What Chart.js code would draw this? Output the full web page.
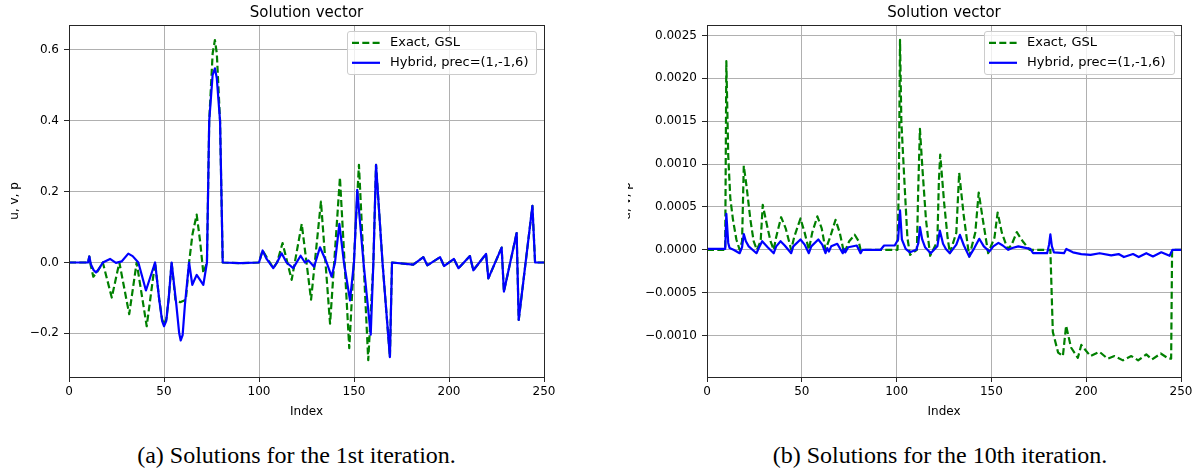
<!DOCTYPE html>
<html><head><meta charset="utf-8">
<script src="https://cdn.jsdelivr.net/npm/chart.js@4.4.1/dist/chart.umd.min.js"></script>
<style>
html,body{margin:0;padding:0;background:#fff;}
#wrap{position:relative;width:1203px;height:474px;overflow:hidden;background:#fff;}
canvas{position:absolute;top:0;}
.ttl{position:absolute;top:3px;font-family:"DejaVu Sans";font-size:15px;line-height:18px;color:#000;white-space:nowrap;transform:translateX(-50%);}
.cap{position:absolute;top:442px;font-family:"Liberation Serif";font-size:24px;line-height:27px;color:#000;white-space:nowrap;transform:translateX(-50%);}
.leg{position:absolute;border:1px solid #cccccc;border-radius:3px;background:rgba(255,255,255,0.8);box-sizing:border-box;}
.leg svg{position:absolute;left:0;top:0;}
.leg span{position:absolute;font-family:"DejaVu Sans";font-size:13px;line-height:16px;color:#000;white-space:nowrap;}
</style></head>
<body><div id="wrap">
<canvas id="cA" width="600" height="430" style="left:0;width:600px;height:430px"></canvas>
<canvas id="cB" width="575" height="430" style="left:628px;width:575px;height:430px"></canvas>
</div>
<script>
const titleText = 'Solution vector';
const xLabel = 'Index';
const yLabel = 'u, v, p';
const captions = ['(a) Solutions for the 1st iteration.', '(b) Solutions for the 10th iteration.'];
const seriesNames = ['Exact, GSL', 'Hybrid, prec=(1,-1,6)'];
const seriesColors = ['#008000', '#0000ff'];

const xTicks = [0, 50, 100, 150, 200, 250];
const xTickLabels = ['0', '50', '100', '150', '200', '250'];
const yTicksA = [-0.2, 0, 0.2, 0.4, 0.6];
const yTickLabelsA = ['\u22120.2', '0.0', '0.2', '0.4', '0.6'];
const yTicksB = [-0.001, -0.0005, 0, 0.0005, 0.001, 0.0015, 0.002, 0.0025];
const yTickLabelsB = ['\u22120.0010', '\u22120.0005', '0.0000', '0.0005', '0.0010', '0.0015', '0.0020', '0.0025'];

// (a) 1st iteration
const leftExactX = [0, 10, 10.7, 11.5, 12.8, 14.5, 17.8, 22.5, 26.5, 31.7, 35.6, 40.9, 45.3, 47.5, 49, 50, 51.2, 52.5, 54, 56, 58.5, 61.5, 63.2, 65, 67.2, 69, 70.7, 72.6, 73.8, 75.6, 76.8, 77.8, 79.5, 80.9, 90, 100, 101.9, 104, 107.5, 109.5, 112.4, 117.2, 122.5, 127.4, 132.6, 137.4, 142.6, 147.5, 152.6, 157.5, 160.2, 161.6, 165, 168.9, 170, 181.2, 186.5, 188.6, 195.3, 197.4, 202.6, 205, 211, 212.8, 219.5, 220.7, 227.7, 228.9, 235.6, 236.7, 243.9, 245.3, 250];
const leftExactY = [0, 0, 0.017, -0.01, -0.04, -0.03, 0, -0.099, 0, -0.146, 0, -0.18, 0, -0.105, -0.16, -0.175, -0.16, -0.1, 0, -0.105, -0.112, -0.105, 0, 0.08, 0.135, 0.06, -0.03, 0, 0.4, 0.59, 0.628, 0.59, 0.4, 0, -0.002, 0, 0.034, 0.015, -0.016, 0, 0.055, -0.049, 0.109, -0.105, 0.172, -0.173, 0.24, -0.242, 0.276, -0.276, 0, 0.276, 0, -0.267, 0, -0.006, 0.015, -0.008, 0.015, -0.01, 0.01, -0.016, 0.018, -0.022, 0.024, -0.045, 0.042, -0.082, 0.083, -0.162, 0.16, 0, 0];
const leftHybridX = [0, 10, 10.7, 11.5, 13, 14.2, 15.5, 17.8, 21.6, 24.7, 27.7, 31.2, 33.5, 36.5, 40.5, 45.3, 47.5, 49, 50, 51.2, 52.5, 54, 56.5, 58, 58.8, 59.8, 61, 63.2, 64.9, 67.2, 70.7, 72.6, 73.8, 75.6, 76.8, 77.8, 79.5, 80.9, 90, 100, 101.9, 104, 107.5, 109.5, 111.9, 114.5, 118, 121.9, 124.2, 126, 129, 132.1, 135.6, 138.2, 140, 142.3, 144.7, 147.9, 150, 151.7, 155, 158.8, 160.2, 161.6, 165, 168.9, 170, 181.2, 186.5, 188.6, 195.3, 197.4, 202.6, 205, 211, 212.8, 219.5, 220.7, 227.7, 228.9, 235.6, 236.7, 243.9, 245.3, 250];
const leftHybridY = [0, 0, 0.017, -0.005, -0.022, -0.028, -0.02, 0, 0.01, -0.001, 0.003, 0.025, 0.018, 0, -0.079, 0, -0.105, -0.165, -0.18, -0.165, -0.1, 0, -0.12, -0.2, -0.22, -0.205, -0.12, 0, -0.063, -0.035, -0.063, 0, 0.4, 0.53, 0.548, 0.52, 0.4, 0, -0.002, 0, 0.034, 0.01, -0.016, 0, 0.026, 0, -0.016, 0.019, 0, 0.006, -0.012, 0.043, 0, -0.04, 0, 0.109, 0, -0.107, 0, 0.205, 0, -0.204, 0, 0.276, 0, -0.267, 0, -0.006, 0.015, -0.008, 0.015, -0.01, 0.01, -0.016, 0.018, -0.022, 0.024, -0.045, 0.042, -0.082, 0.083, -0.162, 0.16, 0, 0];

// (b) 10th iteration
const rightExactX = [0, 9.6, 10.2, 11.2, 12.3, 13.7, 15.5, 17.2, 18.5, 19.4, 20.8, 22.9, 24.6, 26.3, 28.3, 29.4, 31.5, 33.5, 35.2, 36.5, 39.1, 41.5, 44.4, 46, 49.3, 51.5, 53.7, 55.5, 58.2, 60.5, 62.5, 65, 67.8, 70, 72.3, 75, 77.9, 80, 81, 100.5, 101.2, 101.8, 102.5, 104.3, 105.7, 107.1, 110.7, 111.4, 112.3, 113.7, 115.5, 117.7, 121.5, 122.3, 123, 125.1, 126.9, 128.1, 131.5, 133, 135.4, 138.3, 141.5, 143.3, 145.5, 148.3, 151.6, 153.3, 155.5, 158.5, 160.5, 163.4, 166.5, 170.1, 181.1, 182.4, 185.2, 187.7, 189.4, 192, 195.6, 197.4, 202.2, 207, 211.3, 214.9, 219.4, 223.8, 227.4, 231.7, 234.7, 239.3, 243.5, 244.8, 245.3, 250];
const rightExactY = [0, 0, 0.0022, 0.0011, 0.0006, 0.00035, 0.00012, 0, 0.0001, 0.00098, 0.00075, 0.00035, 0.0001, 0, 0.0001, 0.000525, 0.0003, 0.0001, 0, 0.00015, 0.00038, 0.00025, 0, 0.00015, 0.000365, 0.0002, 0, 0.0002, 0.00039, 0.00025, 0, 0.00015, 0.00035, 0.0002, -0.00004, 0.0001, 0.000175, 0.0001, 0, 0, 0.0008, 0.00245, 0.0015, 0.00072, 0.00014, -0.00006, 0, 0.0007, 0.00141, 0.00092, 0.00035, -0.00007, 0.0001, 0.0008, 0.00111, 0.00054, 0.00014, -0.00004, 0.0002, 0.0009, 0.0004, -0.00008, 0.0002, 0.000668, 0.00035, -0.00004, 0.00014, 0.000435, 0.0002, 0.00001, 0.00005, 0.000206, 0.0001, 0, 0, -0.00096, -0.0012, -0.00124, -0.000886, -0.00114, -0.00126, -0.00111, -0.00124, -0.00119, -0.00127, -0.00124, -0.00129, -0.00124, -0.00129, -0.00122, -0.00128, -0.00121, -0.00127, -0.00127, 0, 0];
const rightHybridX = [0, 9.6, 10.2, 11.2, 11.9, 14, 17.2, 18.5, 19.4, 20.5, 22, 26.1, 27.5, 29.1, 32, 35.2, 36.5, 38.8, 41, 44.4, 45.5, 49.3, 51.5, 53.7, 55, 58.7, 60.8, 62.5, 63.4, 64.3, 65.5, 68.7, 71.6, 72.2, 72.9, 74.5, 79, 81, 82, 91.6, 93.4, 99, 100.8, 101.8, 102.8, 104.8, 107, 110.4, 111.5, 112.3, 113.5, 115, 118, 121.5, 122.8, 124.5, 126, 128.1, 131.5, 133.4, 135.5, 138.3, 141, 143.6, 146, 148.9, 151, 153.7, 156, 158.9, 161, 164.2, 170.5, 172, 179.4, 180.4, 181.1, 181.9, 183, 188.3, 189.5, 193, 197.4, 202.3, 207.1, 213.2, 217.1, 219.9, 224.7, 227.7, 231.7, 235.2, 239.6, 244, 245.5, 250];
const rightHybridY = [0.00001, 0.00001, 0.00042, 0.00008, 0.00002, 0, -0.00004, 0.00003, 0.000183, 0.0001, 0.00004, -0.00004, 0.00003, 0.0001, 0.00003, -0.00004, 0.00004, 0.0001, 0.00005, -0.00004, 0.00004, 0.00012, 0.00006, -0.00004, 0.00004, 0.00012, 0.00006, -0.00004, 0.00002, -0.00002, 0.00004, 0.00007, -0.00004, 0.00001, -0.00003, 0.00003, 0.00005, -0.00004, 0, 0, 0.00005, 0.00005, 0.00012, 0.00046, 0.00012, 0.00001, -0.00003, 0, 0.00008, 0.000265, 0.00012, 0.00003, -0.00004, 0.00004, 0.000225, 0.00007, 0.00001, -0.00004, 0.00006, 0.000175, 0.00005, -0.00008, 0.00002, 0.000128, 0.00004, -0.00002, 0.00004, 0.00008, 0.00005, 0, 0.00002, 0.00004, 0.00001, -0.00004, -0.00004, 0.00006, 0.00018, 0.00004, -0.00003, -0.00004, 0.00001, -0.00003, -0.00005, -0.00006, -0.00004, -0.000066, -0.00005, -0.000085, -0.00005, -0.000085, -0.00004, -0.000078, -0.00003, -0.00007, 0, 0];

const yRangeA = [-0.3233, 0.6705];
const yRangeB = [-0.001484, 0.002622];

const pts = (xs, ys) => xs.map((x, i) => ({x: x, y: ys[i]}));

const framePlugin = {
  id: 'frame',
  afterDatasetsDraw(chart) {
    const a = chart.chartArea, ctx = chart.ctx;
    const L = Math.round(a.left), R = Math.round(a.right), T = Math.round(a.top), B = Math.round(a.bottom);
    ctx.save();
    ctx.strokeStyle = '#262626';
    ctx.lineWidth = 1;
    ctx.strokeRect(L + 0.5, T + 0.5, R - L, B - T);
    ctx.restore();
  }
};

function makeChart(id, cfg) {
  const ds = [
    {label: seriesNames[0], data: pts(cfg.ex, cfg.ey), borderColor: seriesColors[0], borderWidth: 2.2,
     borderDash: [7, 3.3], pointRadius: 0, tension: 0, fill: false, order: 2, borderJoinStyle: 'round'},
    {label: seriesNames[1], data: pts(cfg.hx, cfg.hy), borderColor: seriesColors[1], borderWidth: 2.2,
     pointRadius: 0, tension: 0, fill: false, order: 1, borderJoinStyle: 'round'}
  ];
  return new Chart(document.getElementById(id), {
    type: 'line',
    data: {datasets: ds},
    plugins: [framePlugin],
    options: {
      responsive: false, animation: false, devicePixelRatio: 1,
      layout: {padding: {left: 0, top: 25, right: cfg.padRight, bottom: 0}},
      plugins: {legend: {display: false}, tooltip: {enabled: false}, title: {display: false}},
      scales: {
        x: {
          type: 'linear', min: 0, max: 250,
          afterBuildTicks: s => { s.ticks = xTicks.map(v => ({value: v})); },
          afterFit: s => { s.height = 53; },
          ticks: {autoSkip: false, maxRotation: 0, padding: 3, color: '#000', font: {size: 12},
                  callback: (v, i) => xTickLabels[i]},
          grid: {color: '#b0b0b0', lineWidth: 1, tickColor: '#262626', tickLength: 5, tickWidth: 1},
          border: {display: false},
          title: {display: true, text: xLabel, color: '#000', font: {size: 12}, padding: {top: 0, bottom: 11}}
        },
        y: {
          type: 'linear', min: cfg.yr[0], max: cfg.yr[1],
          afterBuildTicks: s => { s.ticks = cfg.yt.map(v => ({value: v})); },
          afterFit: s => { s.width = cfg.yWidth; },
          ticks: {autoSkip: false, padding: 5, color: '#000', font: {size: 12},
                  callback: (v, i) => cfg.yl[i]},
          grid: {color: '#b0b0b0', lineWidth: 1, tickColor: '#262626', tickLength: 5, tickWidth: 1},
          border: {display: false},
          title: {display: true, text: yLabel, color: '#000', font: {size: 12}, padding: {top: cfg.yTitlePad, bottom: 0}}
        }
      }
    }
  });
}

Chart.defaults.font.family = 'DejaVu Sans';
Chart.defaults.font.size = 12;

makeChart('cA', {ex: leftExactX, ey: leftExactY, hx: leftHybridX, hy: leftHybridY,
  yr: yRangeA, yt: yTicksA, yl: yTickLabelsA, yWidth: 69, padRight: 56, yTitlePad: 8});
makeChart('cB', {ex: rightExactX, ey: rightExactY, hx: rightHybridX, hy: rightHybridY,
  yr: yRangeB, yt: yTicksB, yl: yTickLabelsB, yWidth: 79, padRight: 22, yTitlePad: -8.7});

const wrap = document.getElementById('wrap');
function addDiv(cls, text, left, top) {
  const d = document.createElement('div');
  d.className = cls; d.textContent = text; d.style.left = left + 'px';
  if (top !== undefined) d.style.top = top + 'px';
  wrap.appendChild(d); return d;
}
addDiv('ttl', titleText, 306.5);
addDiv('ttl', titleText, 944);
addDiv('cap', captions[0], 296.5);
addDiv('cap', captions[1], 940);

function addLegend(left, top, width) {
  const box = document.createElement('div');
  box.className = 'leg';
  box.style.left = left + 'px'; box.style.top = top + 'px';
  box.style.width = width + 'px'; box.style.height = '44px';
  const ns = 'http://www.w3.org/2000/svg';
  const svg = document.createElementNS(ns, 'svg');
  svg.setAttribute('width', '40'); svg.setAttribute('height', '44');
  const rows = [10.8, 30.8];
  rows.forEach((cy, i) => {
    const ln = document.createElementNS(ns, 'line');
    ln.setAttribute('x1', '4'); ln.setAttribute('x2', '32');
    ln.setAttribute('y1', cy); ln.setAttribute('y2', cy);
    ln.setAttribute('stroke', seriesColors[i]); ln.setAttribute('stroke-width', '2.2');
    if (i === 0) ln.setAttribute('stroke-dasharray', '7 3.3');
    svg.appendChild(ln);
    const sp = document.createElement('span');
    sp.textContent = seriesNames[i];
    sp.style.left = '42px'; sp.style.top = (cy - 8.5) + 'px';
    box.appendChild(sp);
  });
  box.appendChild(svg);
  wrap.appendChild(box);
}
addLegend(347, 31, 190);
addLegend(984, 31, 191);
</script>
</body></html>
